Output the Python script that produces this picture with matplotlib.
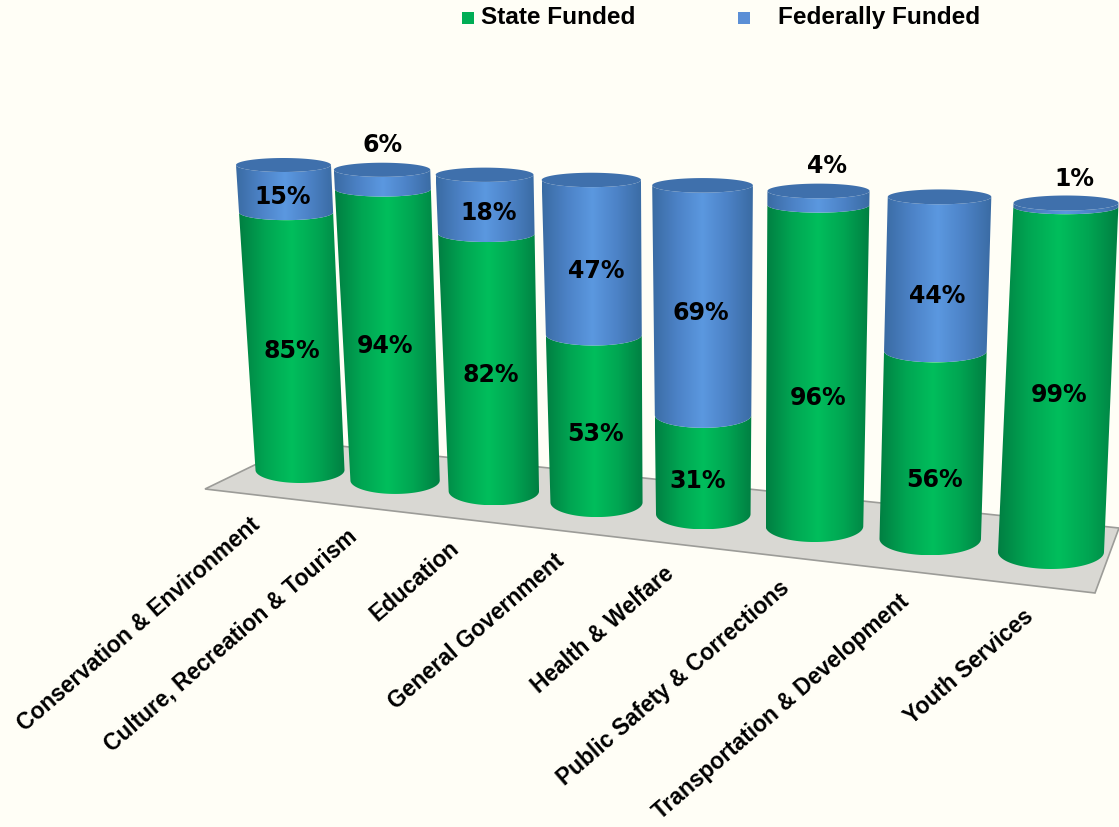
import numpy as np
import matplotlib
matplotlib.use("Agg")
import matplotlib.pyplot as plt
from matplotlib.colors import LinearSegmentedColormap
from matplotlib.patches import Polygon

categories = ["Conservation & Environment", "Culture, Recreation & Tourism", "Education",
              "General Government", "Health & Welfare", "Public Safety & Corrections",
              "Transportation & Development", "Youth Services"]
state_funded = [85, 94, 82, 53, 31, 96, 56, 99]
federal_funded = [15, 6, 18, 47, 69, 4, 44, 1]
legend_names = ["State Funded", "Federally Funded"]

# small nudges of the value labels, in pixels
state_nudge = [(-1, 8), (-4, 9), (1, 11), (0, 15), (-6, 16), (2, 29), (2, 34), (1, 12)]
federal_nudge = [(-2, 8), (0, -25), (3, 9), (4, 13), (-2, 11), (8, -25), (0, 21), (8, -24)]

W, H = 1119, 827
BG = "#FFFEF6"
GREEN = ["#007F42", "#00A552", "#00BE5C", "#00A552", "#007F42"]
BLUE = ["#3A6BA3", "#4C82C6", "#5B98E0", "#4C82C6", "#3A6BA3"]
VALUE_FONT = "DejaVu Sans"
LABEL_FONT = "Liberation Sans"


# perspective of the chart plane: (category, percent) -> pixel
def fit_plane():
    src = [(0, 0), (7, 0), (0, 100), (7, 100)]
    dst = [(300, 470), (1051, 552), (283.5, 165), (1066, 203)]
    A, b = [], []
    for (u, v), (x, y) in zip(src, dst):
        A.append([u, v, 1, 0, 0, 0, -u * x, -v * x])
        A.append([0, 0, 0, u, v, 1, -u * y, -v * y])
        b += [x, y]
    return np.append(np.linalg.solve(np.array(A, float), np.array(b, float)), 1).reshape(3, 3)


M = fit_plane()


def project(u, v):
    p = M @ np.array([u, v, 1.0])
    return p[0] / p[2], p[1] / p[2]


def minor_radius(i, v):
    base = 13 + 4 * i / 7
    top = 7 + 0.5 * i / 7
    return base + (top - base) * v / 100


def half_width(i, v):
    base = 44.5 + 8.5 * (i / 7) ** 2
    top = 47.5 + 5 * i / 7
    return base + (top - base) * v / 100


def arc(i, v, full=False):
    # front half of the ring at height v, left to right
    t = np.linspace(0, 2 * np.pi if full else np.pi, 80)
    cx, cy = project(i, v)
    return cx - half_width(i, v) * np.cos(t), cy + minor_radius(i, v) * np.sin(t)


def draw_segment(ax, i, v0, v1, colors, z):
    cmap = LinearSegmentedColormap.from_list("c", colors)
    x0, y0 = arc(i, v0)
    x1, y1 = arc(i, v1)
    xs = np.r_[x0, x1[::-1]]
    ys = np.r_[y0, y1[::-1]]
    grad = np.linspace(0, 1, 256).reshape(1, -1)
    im = ax.imshow(grad, cmap=cmap, aspect="auto", zorder=z,
                   extent=[xs.min(), xs.max(), ys.max(), ys.min()])
    patch = Polygon(np.c_[xs, ys], closed=True, transform=ax.transData, fc="none", ec="none")
    ax.add_patch(patch)
    im.set_clip_path(patch)


def value_label(ax, x, y, value):
    ax.text(x, y, f"{value}%", ha="center", va="center", fontsize=17,
            fontweight="bold", family=VALUE_FONT, color="black", zorder=5)


fig = plt.figure(figsize=(W / 100, H / 100), dpi=100, facecolor=BG)
ax = fig.add_axes([0, 0, 1, 1])
ax.axis("off")

# floor
floor = Polygon([(205, 489), (302, 442), (1119, 528), (1095, 593)], closed=True,
                fc="#D9D8D3", ec="#9C9C98", lw=1.2, zorder=1)
ax.add_patch(floor)

for i, (s, f) in enumerate(zip(state_funded, federal_funded)):
    draw_segment(ax, i, 0, s, GREEN, 2)
    draw_segment(ax, i, s, s + f, BLUE, 3)
    xt, yt = arc(i, s + f, full=True)
    ax.fill(xt, yt, color="#3F70AC", lw=0, zorder=4)

    xm, ym = project(i, s / 2)
    value_label(ax, xm + state_nudge[i][0], ym + state_nudge[i][1], s)
    if f >= 10:
        xm, ym = project(i, s + f / 2)
    else:
        xm, ym = project(i, 100)
    value_label(ax, xm + federal_nudge[i][0], ym + federal_nudge[i][1], f)

    xl, yl = project(i - 0.45 + 0.31 * i / 7, -18)
    ax.text(xl - 5 + 4 * i / 7, yl + 4, categories[i], ha="right", va="center", rotation=41,
            rotation_mode="anchor", fontsize=16.4, fontweight="bold",
            family=LABEL_FONT, color="black", zorder=5)

# legend
for name, color, xb, xt in zip(legend_names, ["#00AD55", "#5B8FD6"], [467.5, 744], [481, 778]):
    ax.scatter([xb], [17.5], marker="s", s=78, color=color, lw=0, zorder=5)
    ax.text(xt, 24, name, ha="left", va="baseline", fontsize=17.6,
            fontweight="bold", family=LABEL_FONT, color="black", zorder=5)

ax.set_xlim(0, W)
ax.set_ylim(H, 0)
fig.savefig("out.png", dpi=100, facecolor=BG)
